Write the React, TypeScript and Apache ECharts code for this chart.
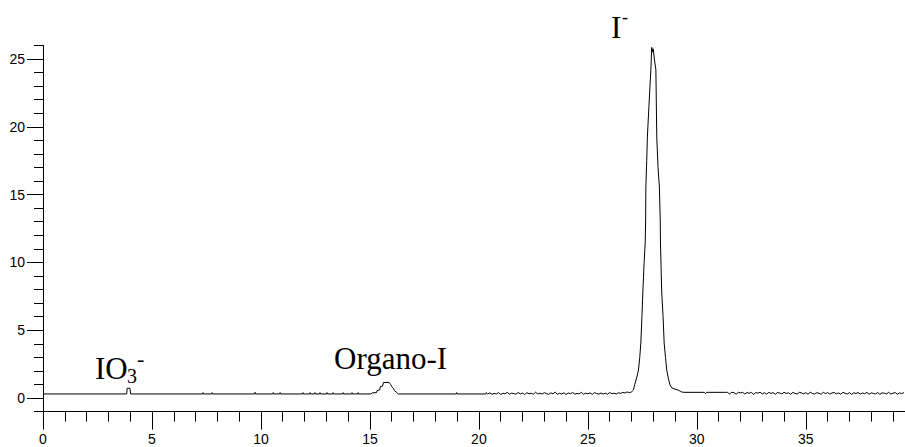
import React, { useEffect, useRef } from "react";
import * as echarts from "echarts";

// Hand-read chromatogram points [time, signal] for the non-noisy parts
const earlyTrace: [number, number][] = [
  [0, 0.3], [3.84, 0.3], [3.86, 0.72], [3.99, 0.72], [4.02, 0.3],
  [7.32, 0.3], [7.34, 0.4], [7.36, 0.3],
  [7.74, 0.3], [7.76, 0.4], [7.78, 0.3],
  [9.71, 0.3], [9.73, 0.42], [9.75, 0.3],
  [10.54, 0.3], [10.56, 0.4], [10.58, 0.3],
  [10.86, 0.3], [10.88, 0.4], [10.9, 0.3],
  [11.91, 0.3], [11.93, 0.4], [11.95, 0.3],
  [12.23, 0.3], [12.25, 0.4], [12.27, 0.3],
  [12.46, 0.3], [12.48, 0.4], [12.5, 0.3],
  [12.69, 0.3], [12.71, 0.4], [12.73, 0.3],
  [13.01, 0.3], [13.03, 0.4], [13.05, 0.3],
  [13.29, 0.3], [13.31, 0.4], [13.33, 0.3],
  [13.75, 0.3], [13.77, 0.4], [13.79, 0.3],
  [14.16, 0.3], [14.18, 0.4], [14.2, 0.3],
  [14.44, 0.3], [14.46, 0.4], [14.48, 0.3],
  [15.05, 0.3], [15.1, 0.38], [15.3, 0.4], [15.33, 0.55], [15.45, 0.6],
  [15.48, 0.85], [15.58, 0.88], [15.62, 1.15], [15.88, 1.15], [15.95, 1.0],
  [16.0, 0.85], [16.08, 0.7], [16.12, 0.55], [16.22, 0.42], [16.3, 0.3],
  [18.96, 0.3], [18.98, 0.4], [19.0, 0.3],
  [20.31, 0.3], [20.33, 0.4],
];

// Baseline noise readings (sampled every 0.1 min) before the iodide peak
const noiseAStart = 20.4;
const noiseAStep = 0.1;
const noiseA = [
  0.30, 0.38, 0.28, 0.34, 0.30, 0.40, 0.27, 0.35, 0.31, 0.42,
  0.29, 0.36, 0.33, 0.28, 0.41, 0.30, 0.37, 0.26, 0.39, 0.32,
  0.35, 0.28, 0.43, 0.30, 0.36, 0.29, 0.40, 0.33, 0.27, 0.38,
  0.31, 0.44, 0.28, 0.35, 0.30, 0.39, 0.26, 0.37, 0.32, 0.41,
  0.29, 0.34, 0.30, 0.42, 0.28, 0.36, 0.31, 0.38, 0.27, 0.40,
  0.33, 0.29, 0.37, 0.30, 0.35, 0.28, 0.41, 0.32, 0.36, 0.30,
  0.39, 0.34, 0.42, 0.37, 0.45, 0.40,
];

// Iodide peak, hand-read
const iodidePeak: [number, number][] = [
  [27.0, 0.45], [27.09, 0.59], [27.15, 1.0], [27.21, 1.33], [27.27, 1.7],
  [27.32, 2.06], [27.38, 3.0], [27.43, 4.06], [27.48, 6.0], [27.52, 7.74],
  [27.58, 10.0], [27.63, 11.43], [27.65, 13.13], [27.66, 15.56], [27.7, 17.5],
  [27.73, 19.25], [27.8, 21.5], [27.89, 24.2], [27.93, 25.85], [27.96, 25.5],
  [28.0, 25.75], [28.05, 25.0], [28.12, 24.2], [28.16, 19.25], [28.22, 17.0],
  [28.28, 15.56], [28.32, 13.13], [28.33, 11.43], [28.36, 9.5], [28.39, 7.74],
  [28.45, 6.0], [28.5, 4.06], [28.56, 3.0], [28.62, 2.06], [28.7, 1.4],
  [28.77, 0.96], [28.85, 0.75], [29.0, 0.65], [29.14, 0.59], [29.3, 0.45],
  [29.4, 0.42], [30.35, 0.42], [30.4, 0.32], [30.45, 0.42], [31.3, 0.42],
];

// Baseline noise readings after the iodide peak
const noiseBStart = 31.4;
const noiseBStep = 0.1;
const noiseB = [
  0.42, 0.30, 0.42, 0.40, 0.28, 0.42, 0.38, 0.42, 0.30, 0.41,
  0.35, 0.42, 0.27, 0.40, 0.36, 0.43, 0.31, 0.39, 0.29, 0.42,
  0.34, 0.40, 0.28, 0.41, 0.37, 0.30, 0.43, 0.33, 0.39, 0.27,
  0.41, 0.35, 0.29, 0.42, 0.38, 0.31, 0.40, 0.28, 0.43, 0.34,
  0.30, 0.39, 0.36, 0.27, 0.42, 0.33, 0.40, 0.29, 0.37, 0.41,
  0.31, 0.38, 0.28, 0.42, 0.35, 0.30, 0.40, 0.27, 0.39, 0.33,
  0.41, 0.29, 0.37, 0.32, 0.42, 0.28, 0.38, 0.34, 0.30, 0.41,
  0.27, 0.39, 0.35, 0.31, 0.42, 0.29, 0.36, 0.40, 0.28, 0.38,
  0.33, 0.40,
];

const xMajorTicks = [0, 5, 10, 15, 20, 25, 30, 35];
const xMinorTicks = [
  1, 2, 3, 4, 6, 7, 8, 9, 11, 12, 13, 14, 16, 17, 18, 19, 21, 22, 23, 24,
  26, 27, 28, 29, 31, 32, 33, 34, 36, 37, 38, 39,
];
const yMajorTicks = [0, 5, 10, 15, 20, 25];
const yMinorTicks = [
  -1, 1, 2, 3, 4, 6, 7, 8, 9, 11, 12, 13, 14, 16, 17, 18, 19, 21, 22, 23, 24, 26,
];

const xMin = 0;
const xMax = 39.55;
const yMin = -1;
const yMax = 26;

function buildData(): [number, number][] {
  const out: [number, number][] = [...earlyTrace];
  noiseA.forEach((v, i) => out.push([+(noiseAStart + i * noiseAStep).toFixed(2), v]));
  out.push(...iodidePeak);
  noiseB.forEach((v, i) => out.push([+(noiseBStart + i * noiseBStep).toFixed(2), v]));
  return out;
}

const serif = '"Liberation Serif", "Times New Roman", serif';
const sans = '"Liberation Sans", Arial, sans-serif';

export default function App() {
  const ref = useRef<HTMLDivElement>(null);
  useEffect(() => {
    document.body.style.margin = "0";
    if (!ref.current) return;
    const chart = echarts.init(ref.current, null, { renderer: "svg" });
    const axisLineStyle = { color: "#000", width: 1 };
    chart.setOption({
      animation: false,
      backgroundColor: "#fff",
      grid: {
        left: 43,
        right: 0,
        top: 45.4,
        bottom: 35.4,
        containLabel: false,
        outerBoundsMode: "none",
      },
      xAxis: [
        {
          type: "value",
          min: xMin,
          max: xMax,
          position: "bottom",
          axisLine: { show: true, onZero: false, lineStyle: axisLineStyle },
          axisTick: { show: true, customValues: xMajorTicks, length: 18, lineStyle: axisLineStyle },
          axisLabel: {
            show: true,
            customValues: xMajorTicks,
            margin: 20,
            color: "#000",
            fontSize: 14,
            fontFamily: sans,
          },
          splitLine: { show: false },
        },
        {
          type: "value",
          min: xMin,
          max: xMax,
          position: "bottom",
          axisLine: { show: false, onZero: false },
          axisTick: { show: true, customValues: xMinorTicks, length: 10, lineStyle: axisLineStyle },
          axisLabel: { show: false },
          splitLine: { show: false },
        },
      ],
      yAxis: [
        {
          type: "value",
          min: yMin,
          max: yMax,
          position: "left",
          axisLine: { show: true, onZero: false, lineStyle: axisLineStyle },
          axisTick: { show: true, customValues: yMajorTicks, length: 16, lineStyle: axisLineStyle },
          axisLabel: {
            show: true,
            customValues: yMajorTicks,
            margin: 18,
            color: "#000",
            fontSize: 14,
            fontFamily: sans,
          },
          splitLine: { show: false },
        },
        {
          type: "value",
          min: yMin,
          max: yMax,
          position: "left",
          axisLine: { show: false, onZero: false },
          axisTick: { show: true, customValues: yMinorTicks, length: 9, lineStyle: axisLineStyle },
          axisLabel: { show: false },
          splitLine: { show: false },
        },
      ],
      series: [
        {
          type: "line",
          xAxisIndex: 0,
          yAxisIndex: 0,
          data: buildData(),
          showSymbol: false,
          symbol: "none",
          lineStyle: { color: "#000", width: 1 },
          silent: true,
        },
      ],
      graphic: [
        { type: "text", x: 95, y: 368.5, style: { text: "IO", fontSize: 31, fontFamily: serif, fill: "#000", verticalAlign: "middle" } },
        { type: "text", x: 127, y: 375.5, style: { text: "3", fontSize: 20, fontFamily: serif, fill: "#000", verticalAlign: "middle" } },
        { type: "text", x: 137, y: 358.5, style: { text: "-", fontSize: 22, fontFamily: serif, fill: "#000", verticalAlign: "middle" } },
        { type: "text", x: 334, y: 358.5, style: { text: "Organo-I", fontSize: 31, fontFamily: serif, fill: "#000", verticalAlign: "middle" } },
        { type: "text", x: 611, y: 27.5, style: { text: "I", fontSize: 31, fontFamily: serif, fill: "#000", verticalAlign: "middle" } },
        { type: "text", x: 622, y: 17, style: { text: "-", fontSize: 18, fontFamily: serif, fill: "#000", verticalAlign: "middle" } },
      ],
    });
    return () => chart.dispose();
  }, []);
  return (
    <div
      ref={ref}
      style={{ position: "absolute", left: 0, top: 0, width: 905, height: 447, background: "#fff" }}
    />
  );
}
